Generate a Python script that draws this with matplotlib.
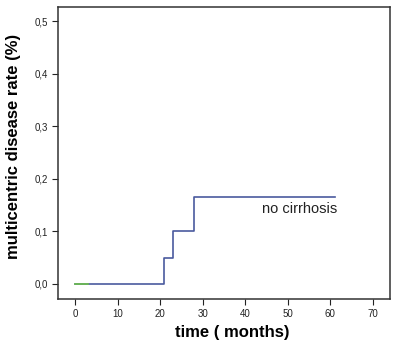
import matplotlib.pyplot as plt

plt.rcParams['font.family'] = ['Liberation Sans', 'DejaVu Sans']

# step data
time_months = [0, 21, 21, 23, 23, 28, 28, 61]
rate = [0.0, 0.0, 0.05, 0.05, 0.10, 0.10, 0.165, 0.165]
green_time = [0, 3]
green_rate = [0.0, 0.0]

x_ticks = [0, 10, 20, 30, 40, 50, 60, 70]
y_ticks = [0.0, 0.1, 0.2, 0.3, 0.4, 0.5]
y_labels = ["0,0", "0,1", "0,2", "0,3", "0,4", "0,5"]

fig = plt.figure(figsize=(3.94, 3.45), dpi=100)
ax = fig.add_axes([58/394, 1 - 299/345, 332/394, 292/345])

ax.plot(time_months, rate, color="#4a5a9e", lw=1.2)
ax.plot(green_time, green_rate, color="#6cc04a", lw=1.2)
ax.text(44, 0.135, "no cirrhosis", fontsize=10.5, color="#222222")

ax.set_xlim(-4, 74)
ax.set_ylim(-0.029, 0.527)
ax.set_xticks(x_ticks)
ax.set_yticks(y_ticks)
ax.set_yticklabels(y_labels)
ax.tick_params(labelsize=7, length=4, width=0.8, colors="#222222")
for s in ax.spines.values():
    s.set_linewidth(1.1)
    s.set_color("#333333")

fig.text(232/394, 1 - 333/345, "time ( months)", fontsize=12, fontweight="bold",
         ha="center", va="center")
fig.text(14/394, 1 - 146/345, "multicentric disease rate (%)", fontsize=12,
         fontweight="bold", rotation=90, ha="center", va="center")

fig.savefig("out.png", dpi=100)
